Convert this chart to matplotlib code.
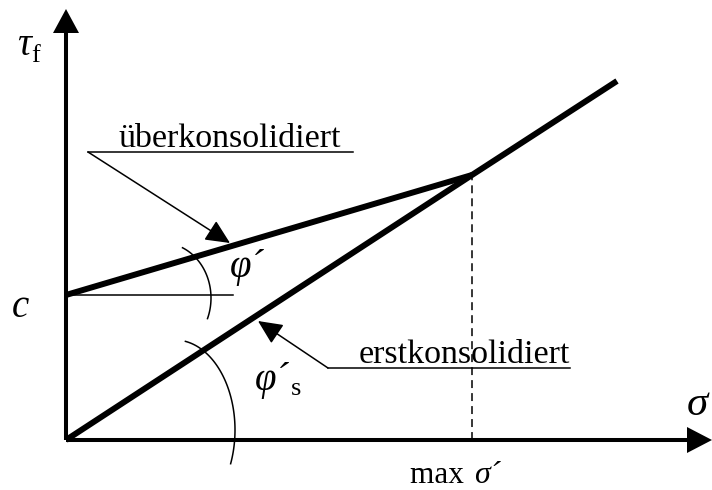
import numpy as np
import matplotlib.pyplot as plt

# Schergeraden: erstkonsolidiert (durch Ursprung) und überkonsolidiert (mit Kohäsion c)
max_sigma = 406
tau_at_max = 265
c = 145
sigma_erst = [0, max_sigma, 551]
tau_erst = [0, tau_at_max, 359]
sigma_ueber = [0, max_sigma]
tau_ueber = [c, tau_at_max]

serif = "Liberation Serif"
heavy = 4.3
axis_lw = 2.9
thin = 1.1

fig = plt.figure(figsize=(7.12, 4.9), dpi=100)
ax = fig.add_axes([0, 0, 1, 1])
ax.set_xlim(-66, 646)
ax.set_ylim(-50, 440)
ax.axis("off")

# Achsen mit Pfeilspitzen
ax.plot([0, 0], [0, 410], color="black", lw=axis_lw, solid_capstyle="butt")
ax.fill([-13, 13, 0], [407, 407, 431], color="black", lw=0)
ax.plot([0, 624], [0, 0], color="black", lw=axis_lw, solid_capstyle="butt")
ax.fill([621, 621, 646], [-13, 13, 0], color="black", lw=0)

# Geraden
ax.plot(sigma_erst, tau_erst, color="black", lw=heavy, solid_capstyle="butt")
ax.plot(sigma_ueber, tau_ueber, color="black", lw=heavy, solid_capstyle="butt")

# Hilfslinien
ax.plot([0, 167], [c, c], color="black", lw=thin)
ax.plot([max_sigma, max_sigma], [0, tau_at_max], color="black", lw=thin,
        linestyle=(0, (5.2, 3.3)))

# Winkelbögen
t1 = np.radians(np.linspace(66, -22, 60))
ax.plot(97 + 48 * np.cos(t1), 142 + 55 * np.sin(t1), color="black", lw=thin)
t2 = np.radians(np.linspace(80, -22, 80))
ax.plot(109 + 60 * np.cos(t2), 10 + 90 * np.sin(t2), color="black", lw=thin)


def leader(x0, x1, y, tip):
    # Unterstreichung + Hinweislinie mit gefüllter Spitze
    ax.plot([x0, x1], [y, y], color="black", lw=thin)
    ax.annotate("", xy=tip, xytext=(x0, y),
                arrowprops=dict(arrowstyle="-|>,head_length=15,head_width=7",
                                mutation_scale=1, color="black", lw=thin,
                                shrinkA=0, shrinkB=0))


leader(22, 287, 288, (164, 197))
leader(262, 504, 72, (192, 119))

ax.text(164, 293, "überkonsolidiert", family=serif, fontsize=24.5,
        ha="center", va="baseline")
ax.text(398, 77, "erstkonsolidiert", family=serif, fontsize=24.5,
        ha="center", va="baseline")

# Formelzeichen
ax.text(-49, 385, "τ", family=serif, style="italic", fontsize=28, va="baseline")
ax.text(-35, 378, "f", family=serif, fontsize=19, va="baseline")
ax.text(-46, 123, "c", family=serif, style="italic", fontsize=28,
        ha="center", va="baseline")
ax.text(621, 25, "σ", family=serif, style="italic", fontsize=31, va="baseline")
ax.text(164, 163, "φ´", family=serif, style="italic", fontsize=28, va="baseline")
ax.text(189, 50, "φ´", family=serif, style="italic", fontsize=28, va="baseline")
ax.text(225, 45, "s", family=serif, fontsize=19, va="baseline")
ax.text(max_sigma, -43, "max ", family=serif, fontsize=22.5, ha="right",
        va="baseline")
ax.text(max_sigma + 2, -43, "σ´", family=serif, style="italic", fontsize=23,
        va="baseline")

fig.savefig("out.png", dpi=100)
